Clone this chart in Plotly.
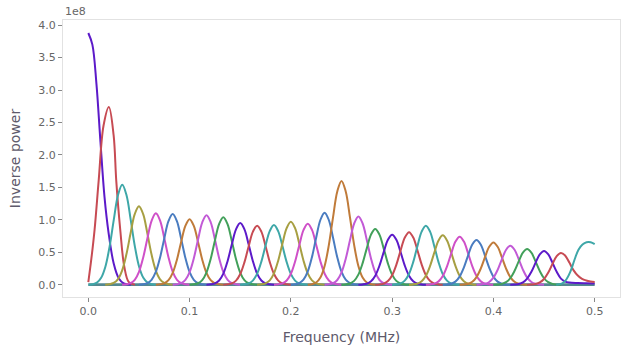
import plotly.graph_objects as go

# ---------------- data (power in units of 1e8) ----------------
# regular peaks are symmetric: values read at the centre and at
# steps of 1/240 MHz away from it (0..8 steps; the last is zero)
step = 1 / 240

reg_centers = [0.0335, 0.05, 0.0667, 0.0833, 0.10, 0.1167, 0.1333, 0.15, 0.1667,
               0.1833, 0.20, 0.2167, 0.2333, 0.25, 0.2667, 0.2833, 0.30, 0.3167,
               0.3333, 0.35, 0.3667, 0.3833, 0.40, 0.4167, 0.4333]
reg_half_values = [
    [1.54, 1.383, 1.003, 0.587, 0.277, 0.106, 0.032, 0.008, 0],
    [1.21, 1.087, 0.788, 0.461, 0.218, 0.083, 0.026, 0.006, 0],
    [1.10, 0.988, 0.716, 0.419, 0.198, 0.075, 0.023, 0.006, 0],
    [1.09, 0.979, 0.710, 0.415, 0.196, 0.075, 0.023, 0.006, 0],
    [1.01, 0.907, 0.658, 0.385, 0.182, 0.069, 0.021, 0.005, 0],
    [1.07, 0.961, 0.697, 0.408, 0.193, 0.073, 0.023, 0.006, 0],
    [1.04, 0.934, 0.677, 0.396, 0.187, 0.071, 0.022, 0.005, 0],
    [0.95, 0.853, 0.618, 0.362, 0.171, 0.065, 0.020, 0.005, 0],
    [0.91, 0.817, 0.592, 0.347, 0.164, 0.062, 0.019, 0.005, 0],
    [0.92, 0.826, 0.599, 0.351, 0.166, 0.063, 0.019, 0.005, 0],
    [0.97, 0.871, 0.631, 0.370, 0.175, 0.067, 0.020, 0.005, 0],
    [0.94, 0.844, 0.612, 0.358, 0.169, 0.064, 0.020, 0.005, 0],
    [1.11, 0.997, 0.723, 0.423, 0.200, 0.076, 0.023, 0.006, 0],
    [1.60, 1.437, 1.042, 0.610, 0.288, 0.110, 0.034, 0.008, 0],
    [1.05, 0.943, 0.684, 0.400, 0.189, 0.072, 0.022, 0.005, 0],
    [0.86, 0.772, 0.560, 0.328, 0.155, 0.059, 0.018, 0.004, 0],
    [0.77, 0.691, 0.501, 0.293, 0.139, 0.053, 0.016, 0.004, 0],
    [0.81, 0.727, 0.527, 0.309, 0.146, 0.056, 0.017, 0.004, 0],
    [0.91, 0.817, 0.592, 0.347, 0.164, 0.062, 0.019, 0.005, 0],
    [0.76, 0.682, 0.495, 0.290, 0.137, 0.052, 0.016, 0.004, 0],
    [0.74, 0.665, 0.482, 0.282, 0.133, 0.051, 0.016, 0.004, 0],
    [0.69, 0.620, 0.449, 0.263, 0.124, 0.047, 0.015, 0.004, 0],
    [0.65, 0.584, 0.423, 0.248, 0.117, 0.045, 0.014, 0.003, 0],
    [0.60, 0.539, 0.391, 0.229, 0.108, 0.041, 0.013, 0.003, 0],
    [0.55, 0.494, 0.358, 0.210, 0.099, 0.038, 0.012, 0.003, 0],
]

# edge peaks with explicit samples
p0_x = [0.0, 0.004, 0.008, 0.012, 0.016, 0.020, 0.025, 0.030, 0.035, 0.042]
p0_y = [3.88, 3.70, 3.10, 2.20, 1.35, 0.80, 0.33, 0.10, 0.02, 0.0]

p1_x = [0.0, 0.003, 0.0062, 0.0102, 0.015, 0.0203, 0.025, 0.0276, 0.0315, 0.0355, 0.040, 0.046]
p1_y = [0.04, 0.40, 0.85, 1.60, 2.45, 2.74, 2.30, 1.60, 0.85, 0.28, 0.04, 0.0]

p27_x = [0.4167, 0.4208, 0.425, 0.4292, 0.4333, 0.4375, 0.4417, 0.4458, 0.45,
         0.4542, 0.4583, 0.4625, 0.4667, 0.4708, 0.475, 0.4833, 0.4917, 0.5]
p27_y = [0.0, 0.003, 0.011, 0.036, 0.094, 0.198, 0.339, 0.467, 0.52,
         0.467, 0.339, 0.198, 0.094, 0.048, 0.032, 0.025, 0.022, 0.02]

p28_x = [0.4333, 0.4375, 0.4417, 0.4458, 0.45, 0.4542, 0.4583, 0.4625, 0.4667,
         0.4708, 0.475, 0.4792, 0.4833, 0.4875, 0.4917, 0.4958, 0.5]
p28_y = [0.0, 0.003, 0.010, 0.034, 0.088, 0.187, 0.319, 0.44, 0.49,
         0.45, 0.34, 0.22, 0.14, 0.09, 0.065, 0.05, 0.04]

p29_x = [0.462, 0.468, 0.472, 0.476, 0.480, 0.484, 0.488, 0.492, 0.496, 0.5]
p29_y = [0.0, 0.02, 0.08, 0.20, 0.38, 0.54, 0.62, 0.655, 0.655, 0.625]

baseline_x = [0.0, 0.5]
baseline_y = [0.0, 0.0]

palette = ["#5c1ac9", "#c74b53", "#3ea7a8", "#a79f42", "#cf50c8",
           "#4a7cc0", "#c07b3a", "#c25ad6", "#42a05a"]

x_ticks = [0.0, 0.1, 0.2, 0.3, 0.4, 0.5]
x_tick_text = ["0.0", "0.1", "0.2", "0.3", "0.4", "0.5"]
y_ticks = [0.0, 0.5, 1.0, 1.5, 2.0, 2.5, 3.0, 3.5, 4.0]
y_tick_text = ["0.0", "0.5", "1.0", "1.5", "2.0", "2.5", "3.0", "3.5", "4.0"]

# ---------------- build curves ----------------
curves = [(p0_x, p0_y), (p1_x, p1_y)]
for c, half in zip(reg_centers, reg_half_values):
    n = len(half)
    ks = list(range(-(n - 1), n))
    xs = [c + k * step for k in ks]
    ys = [half[abs(k)] for k in ks]
    curves.append((xs, ys))
curves += [(p27_x, p27_y), (p28_x, p28_y), (p29_x, p29_y)]

fig = go.Figure()
fig.add_trace(go.Scatter(x=baseline_x, y=baseline_y, mode="lines",
                         line=dict(color="#548890", width=2.6),
                         hoverinfo="skip", showlegend=False))
for i, (xs, ys) in enumerate(curves):
    fig.add_trace(go.Scatter(
        x=xs, y=ys, mode="lines",
        line=dict(color=palette[i % len(palette)], width=2, shape="spline"),
        hoverinfo="skip", showlegend=False))

axis_common = dict(
    showgrid=False, zeroline=False, showline=True, linecolor="#e2e2e2",
    linewidth=1, mirror=True, ticks="outside", ticklen=4, tickwidth=1,
    tickcolor="#888", tickfont=dict(family="DejaVu Sans", size=11, color="#666"),
)

fig.update_layout(
    width=627, height=353,
    margin=dict(l=63, r=7, t=20, b=56),
    plot_bgcolor="white", paper_bgcolor="white",
    font=dict(family="DejaVu Sans", size=11, color="#666"),
    showlegend=False,
    xaxis=dict(range=[-0.025, 0.525], tickvals=x_ticks, ticktext=x_tick_text,
               title=dict(text="Frequency (MHz)", standoff=14,
                          font=dict(family="DejaVu Sans", size=14, color="#5e5a6b")),
               automargin=False, **axis_common),
    yaxis=dict(range=[-0.19, 4.08], tickvals=y_ticks, ticktext=y_tick_text,
               title=dict(text="Inverse power", standoff=14,
                          font=dict(family="DejaVu Sans", size=14, color="#5e5a6b")),
               automargin=False, **axis_common),
    annotations=[dict(text="1e8", x=0, y=1, xref="paper", yref="paper",
                      xanchor="left", yanchor="bottom", showarrow=False, yshift=0,
                      font=dict(family="DejaVu Sans", size=11, color="#666"))],
)

fig.write_html("out.html")
